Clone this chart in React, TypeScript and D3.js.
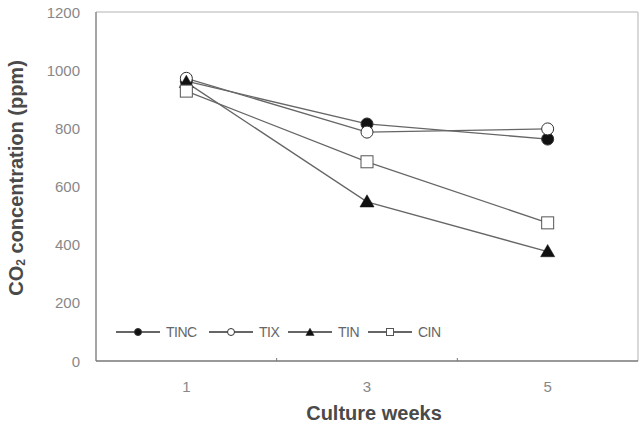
import React from "react";
import * as d3 from "d3";

const weeks = ["1", "3", "5"];
const yTicks = [0, 200, 400, 600, 800, 1000, 1200];
const tinc = [962, 815, 763];
const tix = [972, 787, 798];
const tin = [958, 547, 376];
const cin = [928, 685, 475];

const series = [
  { name: "TINC", values: tinc, shape: "circle", fill: "#111" },
  { name: "TIX", values: tix, shape: "circle", fill: "#fff" },
  { name: "TIN", values: tin, shape: "triangle", fill: "#111" },
  { name: "CIN", values: cin, shape: "square", fill: "#fff" },
];

const legendX = [116, 209, 288, 368];

const Marker = ({ shape, fill, x, y, size }) => {
  if (shape === "circle")
    return <circle cx={x} cy={y} r={size} fill={fill} stroke="#333" strokeWidth={1} />;
  if (shape === "square")
    return (
      <rect x={x - size} y={y - size} width={size * 2} height={size * 2} fill={fill} stroke="#555" strokeWidth={1} />
    );
  const tri = d3.symbol(d3.symbolTriangle, size * size * 2.4)();
  return <path d={tri} transform={`translate(${x},${y + 1})`} fill={fill} stroke="#111" strokeWidth={0.5} />;
};

const App = () => {
  const width = 644;
  const height = 424;
  const left = 96;
  const right = 638;
  const top = 12;
  const bottom = 361;

  const x = d3.scaleBand().domain(weeks).range([left, right]);
  const y = d3.scaleLinear().domain([0, 1200]).range([bottom, top]);
  const cx = (i: number) => x(weeks[i])! + x.bandwidth() / 2;
  const line = d3
    .line<number>()
    .x((d, i) => cx(i))
    .y(d => y(d));

  const font = "'Liberation Sans', Arial, sans-serif";

  return (
    <svg width={width} height={height} style={{ position: "absolute", left: 0, top: 0 }}>
      <rect width={width} height={height} fill="#fff" />
      {/* frame */}
      <line x1={left} x2={right} y1={top} y2={top} stroke="#ccc" strokeWidth={1.5} />
      <line x1={right} x2={right} y1={top} y2={bottom} stroke="#ccc" strokeWidth={1.5} />
      <line x1={left} x2={left} y1={top} y2={bottom} stroke="#888" strokeWidth={1.5} />
      <line x1={left} x2={right} y1={bottom} y2={bottom} stroke="#777" strokeWidth={1.5} />

      {/* x ticks between categories */}
      {weeks.slice(1).map(w => (
        <line key={w} x1={x(w)} x2={x(w)} y1={bottom} y2={bottom - 3} stroke="#777" />
      ))}

      {yTicks.map(t => (
        <text
          key={t}
          x={left - 16}
          y={y(t)}
          textAnchor="end"
          dominantBaseline="central"
          fontFamily={font}
          fontSize={15}
          fill="#888"
        >
          {t}
        </text>
      ))}

      {weeks.map((w, i) => (
        <text
          key={w}
          x={cx(i)}
          y={386}
          textAnchor="middle"
          dominantBaseline="central"
          fontFamily={font}
          fontSize={15}
          fill="#888"
        >
          {w}
        </text>
      ))}

      <text
        x={374}
        y={420}
        textAnchor="middle"
        fontFamily={font}
        fontSize={20}
        fontWeight="bold"
        fill="#4a4a4a"
      >
        Culture weeks
      </text>
      <text
        transform={`translate(16, 178) rotate(-90)`}
        textAnchor="middle"
        dominantBaseline="central"
        fontFamily={font}
        fontSize={20}
        fontWeight="bold"
        fill="#4a4a4a"
      >
        CO<tspan fontSize={12} dy={5}>2</tspan>
        <tspan dy={-5}> concentration (ppm)</tspan>
      </text>

      {series.map(s => (
        <path key={s.name} d={line(s.values)!} fill="none" stroke="#666" strokeWidth={1.3} />
      ))}
      {series.map(s =>
        s.values.map((v, i) => (
          <Marker key={s.name + i} shape={s.shape} fill={s.fill} x={cx(i)} y={y(v)} size={6} />
        ))
      )}

      {/* legend */}
      {series.map((s, i) => (
        <g key={s.name}>
          <line x1={legendX[i]} x2={legendX[i] + 44} y1={332} y2={332} stroke="#333" strokeWidth={1.3} />
          <Marker shape={s.shape} fill={s.fill} x={legendX[i] + 22} y={332} size={3.5} />
          <text
            x={legendX[i] + 50}
            y={332}
            dominantBaseline="central"
            fontFamily={font}
            fontSize={14}
            fill="#666"
            letterSpacing={-0.5}
          >
            {s.name}
          </text>
        </g>
      ))}
    </svg>
  );
};

export default App;
